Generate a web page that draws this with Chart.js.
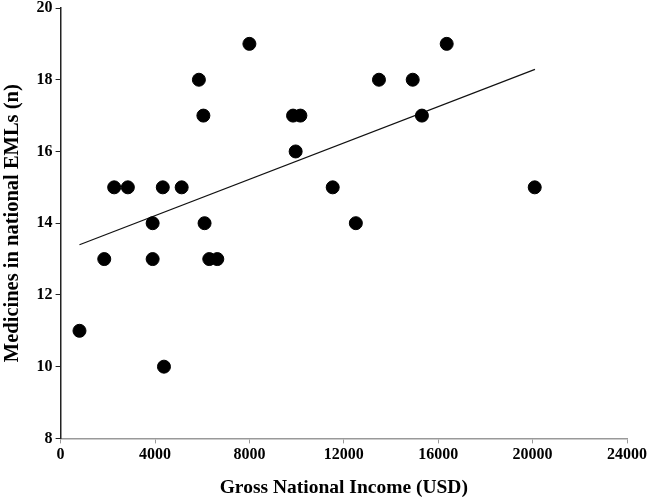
<!DOCTYPE html>
<html>
<head>
<meta charset="utf-8">
<script src="https://cdn.jsdelivr.net/npm/chart.js@4/dist/chart.umd.min.js"></script>
<style>
  html, body { margin: 0; padding: 0; background: #fff; }
  #wrap { width: 650px; height: 500px; }
</style>
</head>
<body>
<div id="wrap"><canvas id="chart"></canvas></div>
<script>
// ─── DATA ─────────────────────────────────────────────────
const gni = [800, 1850, 2270, 2850, 3900, 3900, 4330, 4380, 5130, 5860, 6050, 6100, 6300, 6640,
             8000, 9850, 9960, 10160, 11530, 12510, 13490, 14920, 15310, 16360, 20090];
const emls = [11, 13, 15, 15, 14, 13, 15, 10, 15, 18, 17, 14, 13, 13,
              19, 17, 16, 17, 15, 14, 18, 18, 17, 19, 15];
const trendX = [800, 20100];
const trendY = [13.40, 18.29];
const xTicks = [0, 4000, 8000, 12000, 16000, 20000, 24000];
const yTicks = [8, 10, 12, 14, 16, 18, 20];

const serif = 'Liberation Serif, Times New Roman, serif';

new Chart(document.getElementById('chart'), {
    type: 'scatter',
    data: {
        datasets: [
            {
                data: gni.map((v, i) => ({ x: v, y: emls[i] })),
                backgroundColor: '#000', borderColor: '#000',
                pointRadius: 6.5, pointHoverRadius: 6.5,
            },
            {
                type: 'line',
                data: trendX.map((v, i) => ({ x: v, y: trendY[i] })),
                borderColor: '#111', borderWidth: 1.2,
                pointRadius: 0, fill: false,
            }
        ]
    },
    options: {
        responsive: true, maintainAspectRatio: false, animation: false,
        layout: { padding: { top: 0, right: 23, left: 0, bottom: 0 } },
        plugins: { legend: { display: false }, tooltip: { enabled: false } },
        scales: {
            x: {
                type: 'linear', min: 0, max: 24000,
                afterBuildTicks: s => { s.ticks = xTicks.map(v => ({ value: v })); },
                grid: { display: true, drawOnChartArea: false, drawTicks: true, tickLength: 5, color: '#999' },
                border: { color: '#999', width: 1.5 },
                ticks: { color: '#000', font: { family: serif, size: 16, weight: 'bold' }, padding: 2, maxRotation: 0,
                         callback: v => String(v) },
                title: { display: true, text: 'Gross National Income (USD)', color: '#000',
                         font: { family: serif, size: 19.5, weight: 'bold' }, padding: { top: 10, bottom: 0 } }
            },
            y: {
                type: 'linear', min: 8, max: 20,
                afterBuildTicks: s => { s.ticks = yTicks.map(v => ({ value: v })); },
                afterFit: s => { s.paddingTop = 8; },
                grid: { display: true, drawOnChartArea: false, drawTicks: true, tickLength: 5, color: '#222' },
                border: { color: '#222', width: 1.5 },
                ticks: { color: '#000', font: { family: serif, size: 16, weight: 'bold' }, padding: 3,
                         callback: v => String(v) },
                title: { display: true, text: 'Medicines in national EMLs (n)', color: '#000',
                         font: { family: serif, size: 20.5, weight: 'bold' }, padding: { top: 0, bottom: 9 } }
            }
        }
    }
});
</script>
</body>
</html>
